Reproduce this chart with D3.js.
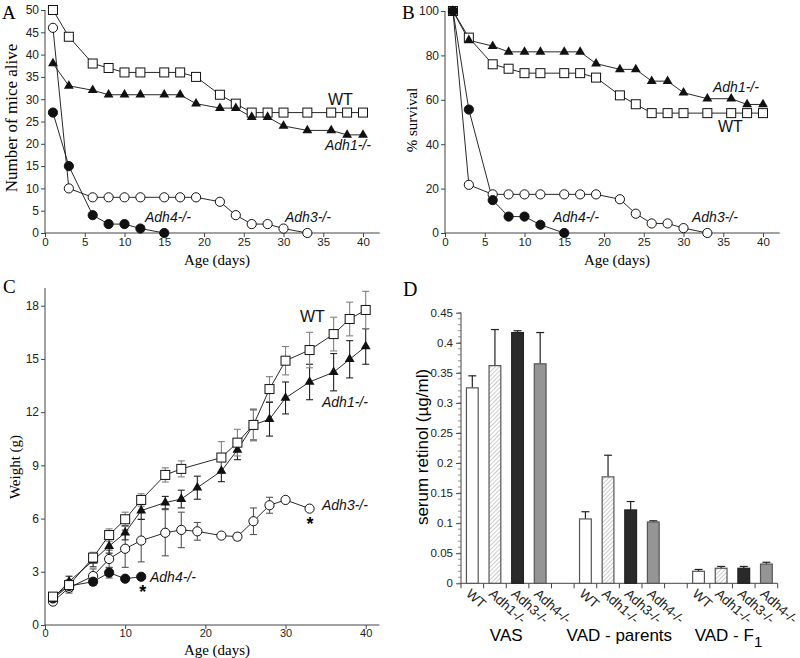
<!DOCTYPE html>
<html><head><meta charset="utf-8">
<script src="https://cdn.jsdelivr.net/npm/d3@7"></script>
<style>body{margin:0;background:#fff}</style>
</head><body>
<svg id="c" width="800" height="658" xmlns="http://www.w3.org/2000/svg"></svg>
<script>
// ---------- DATA ----------
const daysFull = [1,3,6,8,10,12,15,17,19,22,24,26,28,30,33,36,38,40];
const daysAdh3 = [1,3,6,8,10,12,15,17,19,22,24,26,28,30,33];
const daysAdh4 = [1,3,6,8,10,12,15];

// Panel A: number of mice alive
const aliveWT   = [50,44,38,37,36,36,36,36,35,31,29,27,27,27,27,27,27,27];
const aliveAdh1 = [38,33,32,31,31,31,31,31,29,28,28,26,26,24,23,23,22,22];
const aliveAdh3 = [46,10,8,8,8,8,8,8,8,7,4,2,2,1,0];
const aliveAdh4 = [27,15,4,2,2,1,0];

// Panel B: % survival
const survWT   = [100,88,76,74,72,72,72,72,70,62,58,54,54,54,54,54,54,54];
const survAdh1 = [100,86.8,84.2,81.6,81.6,81.6,81.6,81.6,76.3,73.7,73.7,68.4,68.4,63.2,60.5,60.5,57.9,57.9];
const survAdh3 = [100,21.7,17.4,17.4,17.4,17.4,17.4,17.4,17.4,15.2,8.7,4.3,4.3,2.2,0];
const survAdh4 = [100,55.6,14.8,7.4,7.4,3.7,0];

// Panel C: weight (g) mean and error
const daysWtWT   = [1,3,6,8,10,12,15,17,22,24,26,28,30,33,36,38,40];
const weightWT   = [1.6,2.25,3.8,5.07,5.96,7.05,8.46,8.8,9.44,10.28,11.28,13.3,14.9,15.5,16.4,17.25,17.76];
const errWT      = [0.2,0.3,0.3,0.35,0.4,0.35,0.4,0.45,0.9,0.75,0.9,0.7,0.8,1.0,0.95,0.95,1.05];
const daysWtAdh1 = [1,3,6,8,10,12,15,17,19,22,24,26,28,30,33,36,38,40];
const weightAdh1 = [1.5,2.45,3.63,4.45,5.2,6.45,6.9,7.1,7.74,8.68,9.87,11.28,11.6,12.8,13.7,14.25,14.98,15.7];
const errAdh1    = [0.15,0.3,0.35,0.4,0.4,0.5,0.35,0.5,0.65,0.6,0.55,0.85,0.95,0.9,1.0,1.05,1.05,1.0];
const daysWtAdh3 = [1,3,6,8,10,12,15,17,19,22,24,26,28,30,33];
const weightAdh3 = [1.32,2.1,2.76,3.72,4.3,4.76,5.2,5.36,5.28,5.04,4.98,5.85,6.75,7.05,6.56];
const errAdh3    = [0.1,0.3,0.4,0.5,1.05,1.2,1.3,1.0,0.5,0.1,0.2,0.75,0.45,0,0];
const daysWtAdh4 = [1,3,6,8,10,12];
const weightAdh4 = [1.5,2.2,2.44,2.95,2.61,2.72];
const errAdh4    = [0.1,0.3,0.2,0.3,0.05,0.05];

// Panel D: serum retinol
const groupsD    = ["VAS","VAD - parents","VAD - F"];
const genotypesD = ["WT","Adh1-/-","Adh3-/-","Adh4-/-"];
const retinolVAS = [0.325,0.362,0.417,0.365];
const errVAS     = [0.020,0.060,0.003,0.052];
const retinolVADp= [0.107,0.177,0.122,0.102];
const errVADp    = [0.012,0.036,0.014,0.002];
const retinolVADf= [0.020,0.025,0.025,0.032];
const errVADf    = [0.003,0.003,0.003,0.003];

const ticksA = d3.range(0,51,5);
const ticksB = [0,20,40,60,80,100];
const ticksXAB = d3.range(0,41,5);
const ticksC = [0,3,6,9,12,15,18];
const ticksXC = [0,10,20,30,40];
const ticksD = d3.range(0,0.451,0.05);

// ---------- DRAW ----------
const svg = d3.select("#c");
const SANS = "'Liberation Sans', Arial, Helvetica, sans-serif";
const SERIF = "'Liberation Serif', 'Times New Roman', serif";

function styleAxis(g, fs){
  g.selectAll("text").attr("font-family", SANS).attr("font-size", fs).attr("fill","#222");
  g.selectAll("line").attr("stroke","#444");
  g.select(".domain").remove();
}

function linePanel(cfg){
  const g = svg.append("g");
  const x = d3.scaleLinear().domain([0,40]).range(cfg.xr);
  const y = d3.scaleLinear().domain(cfg.yd).range(cfg.yr);
  // axes
  const ax = g.append("g").attr("transform",`translate(0,${cfg.yr[0]})`)
    .call(d3.axisBottom(x).tickValues(cfg.xt).tickSize(4).tickPadding(cfg.xpad).tickFormat(d3.format("d")));
  styleAxis(ax, cfg.xfs);
  const ay = g.append("g").attr("transform",`translate(${cfg.xr[0]},0)`)
    .call(d3.axisLeft(y).tickValues(cfg.yt).tickSize(4).tickPadding(2).tickFormat(d3.format("d")));
  styleAxis(ay, 12);
  g.append("line").attr("x1",x(0)).attr("x2",x(cfg.xmax)).attr("y1",y(0)).attr("y2",y(0)).attr("stroke","#444");
  g.append("line").attr("x1",x(0)).attr("x2",x(0)).attr("y1",y(0)).attr("y2",y(cfg.ymax)).attr("stroke","#444");

  const line = d3.line().x(d=>x(d[0])).y(d=>y(d[1]));
  // error bars first
  cfg.series.forEach(s=>{
    if(!s.err) return;
    const pts = s.days.map((d,i)=>[d,s.vals[i],s.err[i]]).filter(p=>p[2]>0);
    const eg = g.append("g").attr("stroke", s.ecol).attr("stroke-width",1.1);
    pts.forEach(p=>{
      eg.append("line").attr("x1",x(p[0])).attr("x2",x(p[0])).attr("y1",y(p[1]-p[2])).attr("y2",y(p[1]+p[2]));
      [p[1]-p[2],p[1]+p[2]].forEach(v=>{
        eg.append("line").attr("x1",x(p[0])-3.5).attr("x2",x(p[0])+3.5).attr("y1",y(v)).attr("y2",y(v));
      });
    });
  });
  cfg.series.forEach(s=>{
    const pts = s.days.map((d,i)=>[d,s.vals[i]]);
    g.append("path").datum(pts).attr("d",line).attr("fill","none").attr("stroke","#111").attr("stroke-width",0.9);
  });
  cfg.series.forEach(s=>{
    const pts = s.days.map((d,i)=>[d,s.vals[i]]);
    const mg = g.append("g");
    pts.forEach(p=>{
      const cx = x(p[0]), cy = y(p[1]);
      if(s.shape==="square"){
        mg.append("rect").attr("x",cx-4.5).attr("y",cy-4.5).attr("width",9).attr("height",9)
          .attr("fill","#fff").attr("stroke","#111").attr("stroke-width",1);
      } else if(s.shape==="tri"){
        mg.append("path").attr("d",d3.symbol(d3.symbolTriangle,42)()).attr("transform",`translate(${cx},${cy})`).attr("fill","#111");
      } else {
        mg.append("circle").attr("cx",cx).attr("cy",cy).attr("r",4.6)
          .attr("fill", s.shape==="fcircle" ? "#111" : "#fff").attr("stroke","#111").attr("stroke-width",1);
      }
    });
  });
  // labels
  cfg.labels.forEach(l=>{
    g.append("text").attr("x",l[1]).attr("y",l[2]).text(l[0])
      .attr("font-family",SANS).attr("font-size",l[3]||14)
      .attr("font-style", l[0]==="WT"?"normal":"italic")
      .attr("text-anchor", l[4]||"start").attr("fill","#111");
  });
  g.append("text").attr("x",cfg.xtitle[0]).attr("y",cfg.xtitle[1]).attr("text-anchor","middle")
    .attr("font-family",SERIF).attr("font-size",15).text("Age (days)");
  g.append("text").attr("transform",`translate(${cfg.ytitle[0]},${cfg.ytitle[1]}) rotate(-90)`).attr("text-anchor","middle")
    .attr("font-family",SERIF).attr("font-size",cfg.ytitle[3]).text(cfg.ytitle[2]);
  g.append("text").attr("x",cfg.letter[1]).attr("y",cfg.letter[2]).attr("font-family",SERIF).attr("font-size",19).text(cfg.letter[0]);
  return g;
}

linePanel({
  xr:[45,363], yr:[233,10], yd:[0,50], xt:ticksXAB, yt:ticksA, xmax:42.1, ymax:50, xfs:11.5, xpad:1,
  series:[
    {days:daysFull, vals:aliveWT, shape:"square"},
    {days:daysFull, vals:aliveAdh1, shape:"tri"},
    {days:daysAdh3, vals:aliveAdh3, shape:"ocircle"},
    {days:daysAdh4, vals:aliveAdh4, shape:"fcircle"}
  ],
  labels:[["WT",328,105,16],["Adh1-/-",325,150],["Adh4-/-",145,222],["Adh3-/-",285,222]],
  xtitle:[217,265], ytitle:[17,118,"Number of mice alive",17], letter:["A",2,19]
});

linePanel({
  xr:[445,763], yr:[233,11], yd:[0,100], xt:ticksXAB, yt:ticksB, xmax:42.1, ymax:100, xfs:11.5, xpad:1,
  series:[
    {days:daysFull, vals:survWT, shape:"square"},
    {days:daysFull, vals:survAdh1, shape:"tri"},
    {days:daysAdh3, vals:survAdh3, shape:"ocircle"},
    {days:daysAdh4, vals:survAdh4, shape:"fcircle"}
  ],
  labels:[["Adh1-/-",713,92],["WT",718,132,16],["Adh4-/-",553,222],["Adh3-/-",692,222]],
  xtitle:[617,265], ytitle:[417,120,"% survival",15], letter:["B",402,19]
});

const gC = linePanel({
  xr:[45,365.7], yr:[625,305.7], yd:[0,18], xt:ticksXC, yt:ticksC, xmax:41.7, ymax:19, xfs:11, xpad:0.5,
  series:[
    {days:daysWtAdh3, vals:weightAdh3, err:errAdh3, ecol:"#555", shape:"ocircle"},
    {days:daysWtAdh4, vals:weightAdh4, err:errAdh4, ecol:"#555", shape:"fcircle"},
    {days:daysWtAdh1, vals:weightAdh1, err:errAdh1, ecol:"#222", shape:"tri"},
    {days:daysWtWT, vals:weightWT, err:errWT, ecol:"#808080", shape:"square"}
  ],
  labels:[["WT",300,322,16],["Adh1-/-",322,407],["Adh3-/-",322,510],["Adh4-/-",150,582]],
  xtitle:[217,655], ytitle:[20,467,"Weight (g)",15], letter:["C",3,293]
});
gC.append("text").attr("x",142.7).attr("y",598).attr("text-anchor","middle").attr("font-family",SANS).attr("font-size",18).attr("font-weight","bold").text("*");
gC.append("text").attr("x",310).attr("y",530).attr("text-anchor","middle").attr("font-family",SANS).attr("font-size",18).attr("font-weight","bold").text("*");

// ---------- Panel D ----------
(function(){
  const g = svg.append("g");
  const defs = svg.append("defs");
  const pat = defs.append("pattern").attr("id","hatch").attr("patternUnits","userSpaceOnUse")
    .attr("width",3).attr("height",3).attr("patternTransform","rotate(45)");
  pat.append("rect").attr("width",3).attr("height",3).attr("fill","#fff");
  pat.append("line").attr("x1",0).attr("y1",0).attr("x2",0).attr("y2",3).attr("stroke","#999").attr("stroke-width",1);

  const values = [retinolVAS, retinolVADp, retinolVADf];
  const errs = [errVAS, errVADp, errVADf];
  const slots = d3.range(14);
  const x = d3.scaleBand().domain(slots).range([461,777.7]).paddingInner(0).paddingOuter(0);
  const y = d3.scaleLinear().domain([0,0.45]).range([583.3,312.7]);
  const fills = ["#fff","url(#hatch)","#2a2a2a","#959595"];
  const bw = x.bandwidth()*0.52;

  // y axis
  const ay = g.append("g").attr("transform","translate(461,0)")
    .call(d3.axisLeft(y).tickValues(ticksD).tickSize(5).tickPadding(3).tickFormat(d=> d===0?"0":d3.format("")(+d.toFixed(2))));
  styleAxis(ay, 11.5);
  const minor = d3.range(0,0.4501,0.01);
  g.selectAll(".mn").data(minor).enter().append("line").attr("x1",458).attr("x2",461)
    .attr("y1",d=>y(d)).attr("y2",d=>y(d)).attr("stroke","#666").attr("stroke-width",0.7);
  g.append("line").attr("x1",461).attr("x2",461).attr("y1",y(0)).attr("y2",y(0.45)).attr("stroke","#444");
  // x axis
  g.append("line").attr("x1",x.range()[0]).attr("x2",x.range()[1]).attr("y1",y(0)).attr("y2",y(0)).attr("stroke","#444");
  d3.range(15).forEach(i=>{
    const xx = x.range()[0] + i*x.step();
    g.append("line").attr("x1",xx).attr("x2",xx).attr("y1",y(0)).attr("y2",y(0)+5).attr("stroke","#444");
  });

  values.forEach((vals,gi)=>{
    vals.forEach((v,i)=>{
      const slot = gi*5+i;
      const cx = x(slot)+x.bandwidth()/2;
      const top = y(v+errs[gi][i]);
      g.append("line").attr("x1",cx).attr("x2",cx).attr("y1",y(v)).attr("y2",top).attr("stroke","#222").attr("stroke-width",1.2);
      g.append("line").attr("x1",cx-4).attr("x2",cx+4).attr("y1",top).attr("y2",top).attr("stroke","#222").attr("stroke-width",1.2);
      g.append("rect").attr("x",cx-bw/2).attr("y",y(v)).attr("width",bw).attr("height",y(0)-y(v))
        .attr("fill",fills[i]).attr("stroke", i===2?"#222":"#555").attr("stroke-width",1.2);
      g.append("text").attr("transform",`translate(${cx-7},${595}) rotate(42)`)
        .attr("font-family",SANS).attr("font-size",13.5).attr("fill","#222").text(genotypesD[i]);
    });
  });
  // group labels
  const gcx = [x(0)+2*x.step(), x(5)+2*x.step(), x(10)+2*x.step()];
  g.append("text").attr("x",gcx[0]).attr("y",641).attr("text-anchor","middle").attr("font-family",SANS).attr("font-size",17).text(groupsD[0]);
  g.append("text").attr("x",gcx[1]).attr("y",641).attr("text-anchor","middle").attr("font-family",SANS).attr("font-size",17).text(groupsD[1]);
  const t3 = g.append("text").attr("x",gcx[2]-4).attr("y",641).attr("text-anchor","middle").attr("font-family",SANS).attr("font-size",17);
  t3.append("tspan").text(groupsD[2]);
  t3.append("tspan").attr("dy",6).attr("font-size",15).text("1");

  g.append("text").attr("transform","translate(428,447) rotate(-90)").attr("text-anchor","middle")
    .attr("font-family",SANS).attr("font-size",17).text("serum retinol (µg/ml)");
  g.append("text").attr("x",403).attr("y",296).attr("font-family",SERIF).attr("font-size",20).text("D");
})();
</script>
</body></html>
